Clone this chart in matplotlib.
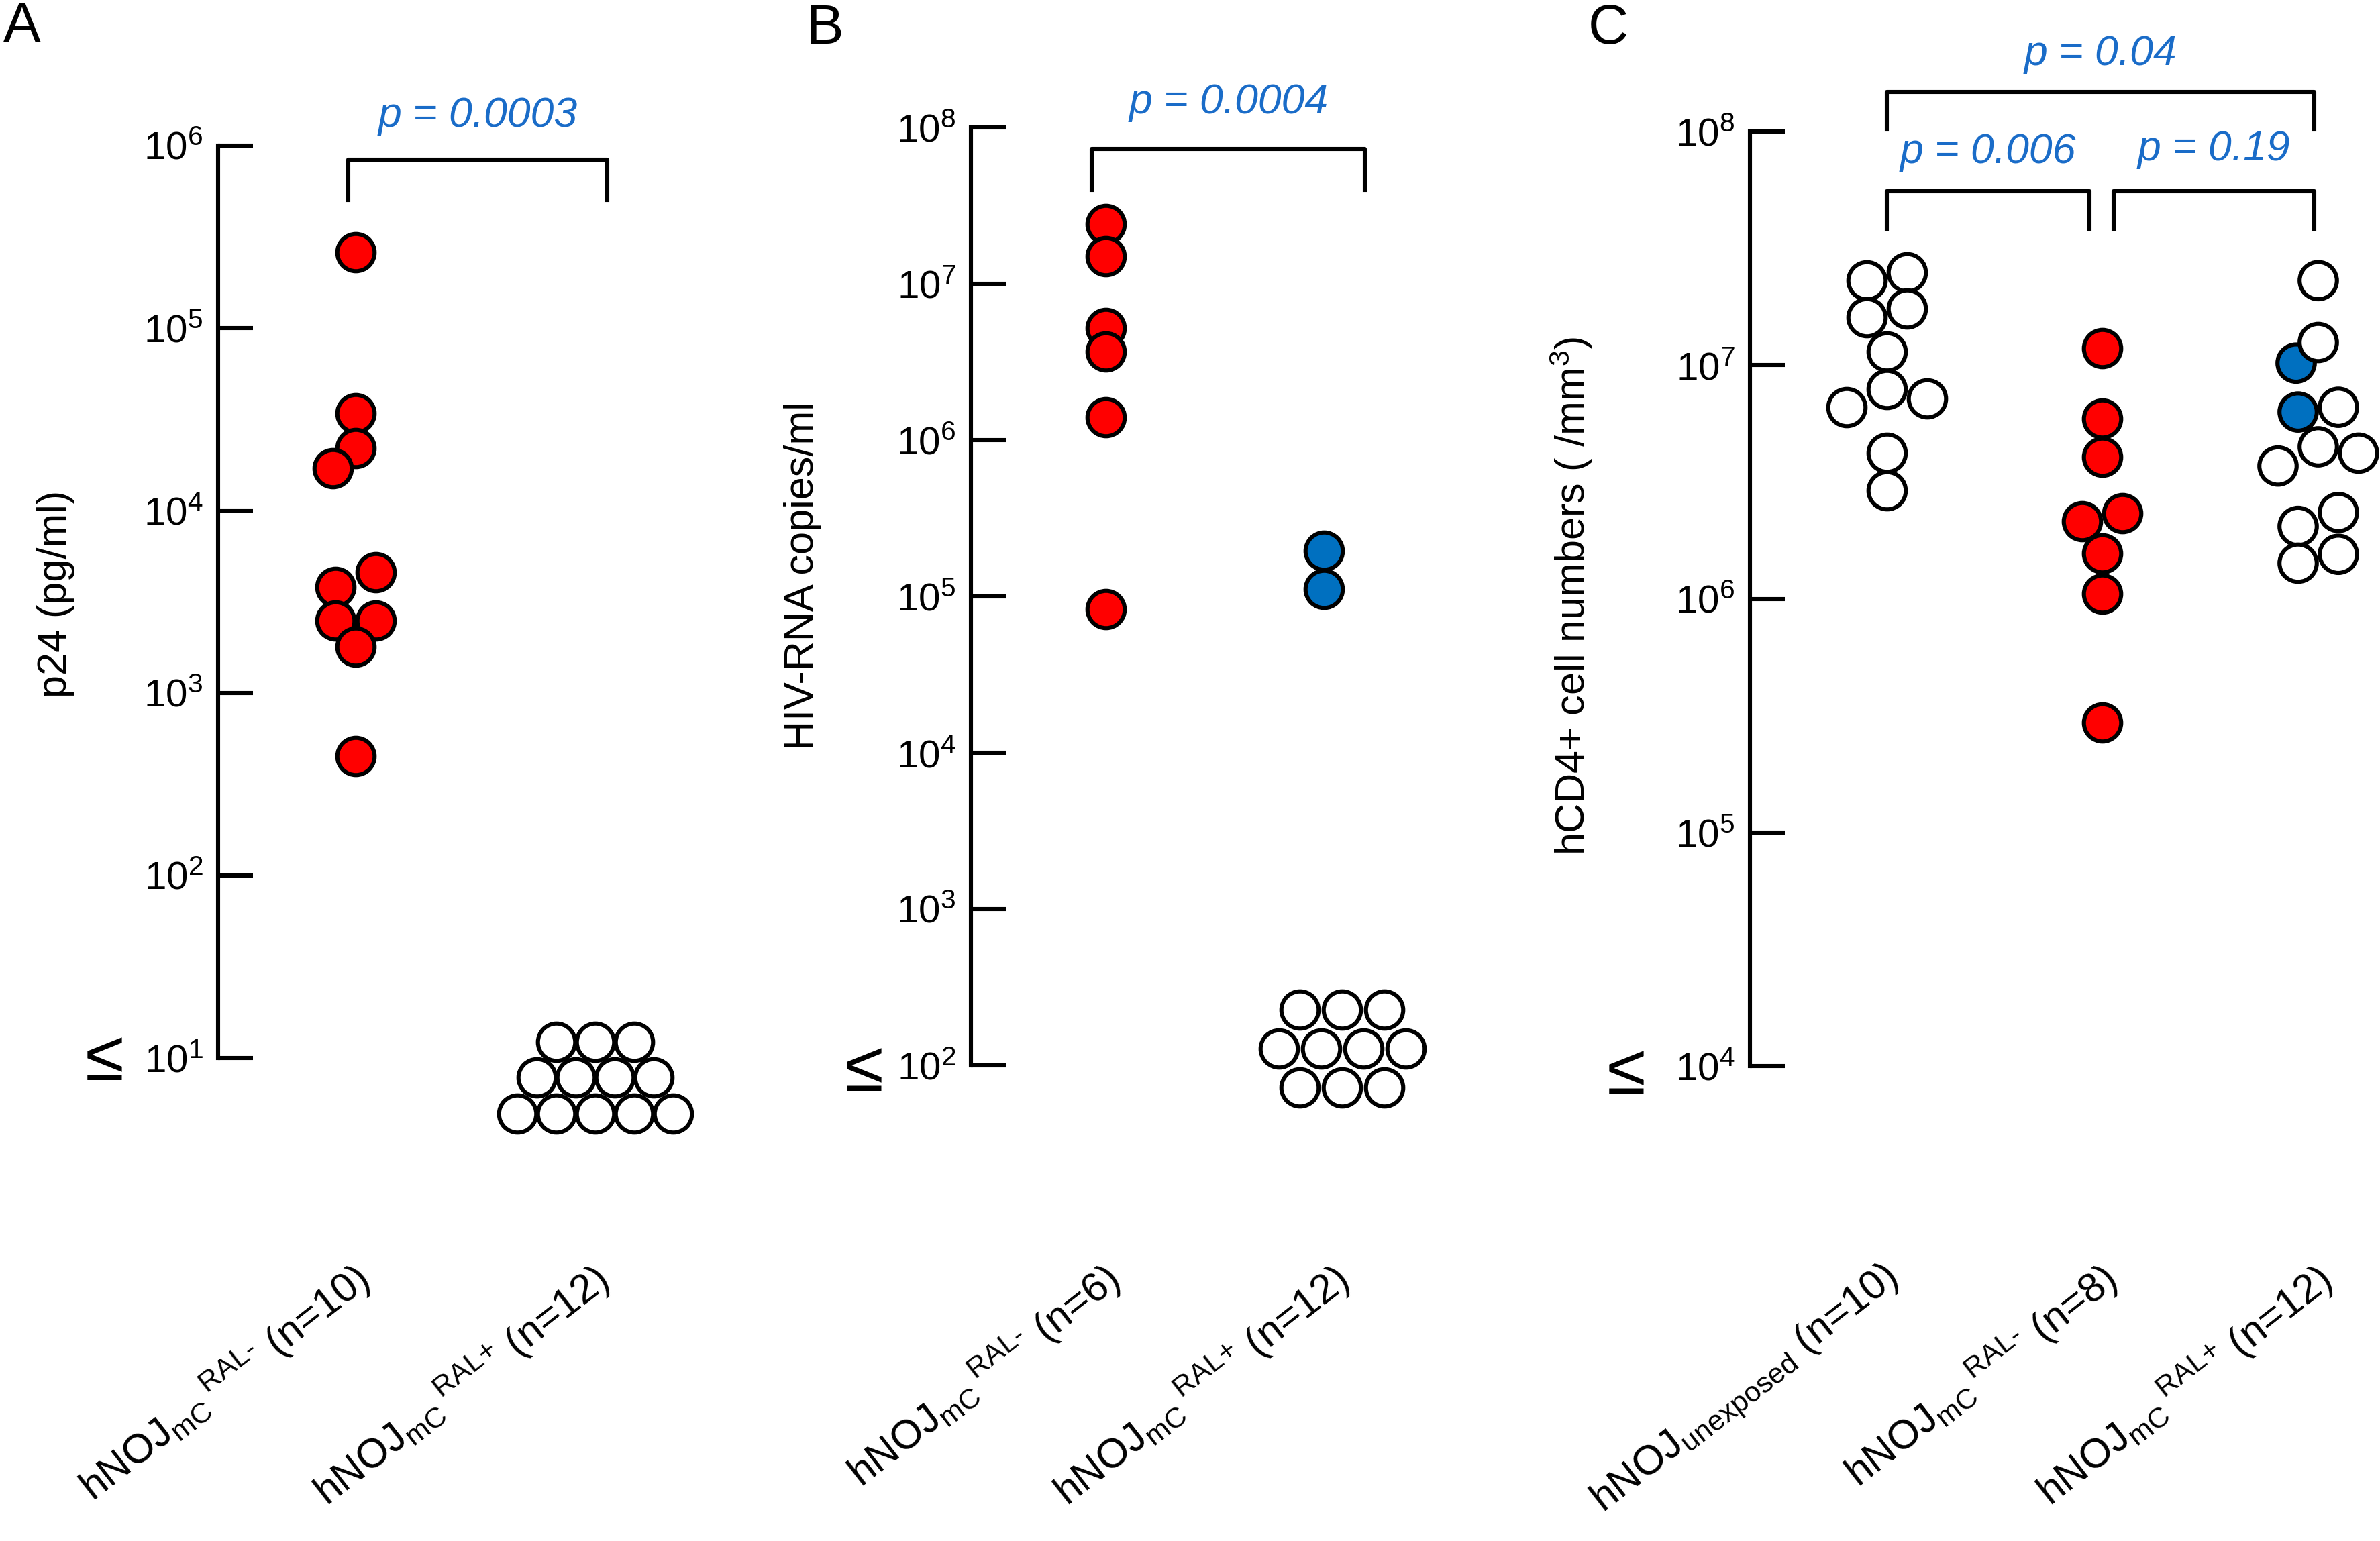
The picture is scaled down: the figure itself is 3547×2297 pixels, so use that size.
import numpy as np
import matplotlib
matplotlib.use("Agg")
import matplotlib.pyplot as plt
from matplotlib.ticker import NullLocator
from matplotlib.transforms import blended_transform_factory

plt.rcParams['font.family'] = ['Liberation Sans', 'DejaVu Sans']
plt.rcParams['mathtext.fontset'] = 'custom'
plt.rcParams['mathtext.rm'] = 'Liberation Sans'
plt.rcParams['mathtext.it'] = 'Liberation Sans:italic'
plt.rcParams['mathtext.bf'] = 'Liberation Sans:bold'

# ---- data ----
# A: p24 in plasma (pg/ml), detection limit 10^1
p24_ral_minus = [2.6e5, 3.4e4, 2.2e4, 1.7e4, 4.6e3, 3.8e3, 2.5e3, 2.5e3, 1.8e3, 4.5e2]
p24_ral_plus_below = 12
p24_limit = 1e1
p24_top = 1e6

# B: HIV-RNA copies/ml, detection limit 10^2
rna_ral_minus = [2.4e7, 1.5e7, 5.2e6, 3.7e6, 1.4e6, 8.3e4]
rna_ral_plus_detected = [1.95e5, 1.12e5]
rna_ral_plus_below = 10
rna_limit = 1e2
rna_top = 1e8

# C: hCD4+ cell numbers (/mm3)
cd4_unexposed = [2.5e7, 2.3e7, 1.75e7, 1.6e7, 1.14e7, 7.9e6, 7.2e6, 6.6e6, 4.2e6, 2.9e6]
cd4_ral_minus = [1.18e7, 5.9e6, 4.05e6, 2.33e6, 2.14e6, 1.56e6, 1.05e6, 2.95e5]
cd4_ral_plus_viremic = [1.02e7, 6.3e6]
cd4_ral_plus_other = [2.3e7, 1.25e7, 6.6e6, 4.47e6, 4.2e6, 3.7e6, 2.34e6, 2.04e6, 1.55e6, 1.42e6]
cd4_limit = 1e4
cd4_top = 1e8

mc_minus = r'hNOJ$_{\text{mC}}\,{}^{\text{RAL-}}$'
mc_plus = r'hNOJ$_{\text{mC}}\,{}^{\text{RAL+}}$'
labels_A = [mc_minus + ' (n=10)', mc_plus + ' (n=12)']
labels_B = [mc_minus + ' (n=6)', mc_plus + ' (n=12)']
labels_C = [r'hNOJ$_{\text{unexposed}}$ (n=10)', mc_minus + ' (n=8)', mc_plus + ' (n=12)']
ylabel_A = 'p24 (pg/ml)'
ylabel_B = 'HIV-RNA copies/ml'
ylabel_C = r'hCD4+ cell numbers ( /mm$^{\mathregular{3}}$)'
pvals_A = ['p = 0.0003']
pvals_B = ['p = 0.0004']
pvals_C = ['p = 0.04', 'p = 0.006', 'p = 0.19']

# ---- styling ----
RED = '#FF0000'
BLUE = '#0070C0'
PBLUE = '#1A6CC8'
LW = 2.2
MS = 400
W, H, DPI = 3548, 2297, 200
PT = 72.0 / DPI  # points per pixel

fig = plt.figure(figsize=(W / DPI, H / DPI), dpi=DPI)


def make_axes(spine, top, lod, g1, spacing, ngroups, ylo, yhi, labels, ylabel, ylab_xy):
    xmin = 1 - (g1 - spine) / spacing
    xmax = ngroups + 0.25
    width = (xmax - xmin) * spacing
    ax = fig.add_axes([spine / W, 1 - lod / H, width / W, (lod - top) / H])
    ax.set_xlim(xmin, xmax)
    ax.set_yscale('log')
    ax.set_ylim(ylo, yhi)
    for s in ['top', 'right', 'bottom']:
        ax.spines[s].set_visible(False)
    ax.spines['left'].set_linewidth(LW)
    ax.spines['left'].set_capstyle('projecting')
    exps = range(int(round(np.log10(ylo))), int(round(np.log10(yhi))) + 1)
    ax.set_yticks([10.0 ** k for k in exps])
    ax.set_yticklabels([r'$\mathregular{10^{%d}}$' % k for k in exps])
    ax.yaxis.set_minor_locator(NullLocator())
    ax.tick_params(axis='y', direction='in', length=52 * PT, width=LW, pad=8, labelsize=21)
    # group labels, anchored at their right end just below the plot
    ax.set_xticks(np.arange(1, ngroups + 1) + 12 / spacing)
    ax.set_xticklabels(labels, rotation=38, ha='right', va='center',
                       rotation_mode='anchor', fontsize=22)
    ax.tick_params(axis='x', length=0, pad=(1900 - lod) * PT)
    ax.set_ylabel(ylabel, fontsize=22, va='center')
    ax.yaxis.set_label_coords((ylab_xy[0] - spine) / width, (lod - ylab_xy[1]) / (lod - top))
    ax.patch.set_alpha(0)
    ax.geo = (top, lod, spacing)
    return ax


def swarm(ax, x0, values, d=60, row_tol=30, min_dist=45):
    vals = np.asarray(values, float)
    disp = ax.transData.transform(np.column_stack([np.full(len(vals), x0), vals]))
    xc = disp[0, 0]
    ys = disp[:, 1]
    order = np.argsort(-ys, kind='stable')
    rows = []
    for i in order:
        if rows and ys[rows[-1][0]] - ys[i] < row_tol:
            rows[-1].append(i)
        else:
            rows.append([i])
    xs = np.zeros(len(vals))
    placed = []
    shifts = sorted(np.arange(-d, d + 1), key=abs)
    for row in rows:
        k = len(row)
        slots = sorted((np.arange(k) - (k - 1) / 2) * d, key=lambda s: (abs(s), -s))
        for sh in shifts:
            ok = all(np.hypot(sl + sh - px, ys[i] - py) >= min_dist
                     for sl, i in zip(slots, row) for px, py in placed)
            if ok:
                break
        for sl, i in zip(slots, row):
            xs[i] = sl + sh
            placed.append((sl + sh, ys[i]))
    pts = ax.transData.inverted().transform(np.column_stack([xc + xs, ys]))
    return pts[:, 0]


def pile(ax, x0, limit, rows, col_sp, row_sp, mid_off):
    # stack of values at / below the detection limit
    cx, cy = ax.transData.transform([(x0, limit)])[0]
    pts = []
    nr = len(rows)
    for r, k in enumerate(rows):
        yy = cy - mid_off - (r - (nr - 1) / 2) * row_sp
        for j in range(k):
            pts.append((cx + (j - (k - 1) / 2) * col_sp, yy))
    return ax.transData.inverted().transform(pts)


def dots(ax, x, y, color):
    ax.scatter(x, y, s=MS, c=color, edgecolors='black', linewidths=LW,
               zorder=3, clip_on=False)


def bracket(ax, x1, x2, ytop, yleg, text, ytext):
    top, lod, _ = ax.geo
    fy = lambda p: (lod - p) / (lod - top)
    tr = blended_transform_factory(ax.transData, ax.transAxes)
    ax.plot([x1, x1, x2, x2], [fy(yleg), fy(ytop), fy(ytop), fy(yleg)], color='black',
            lw=LW, transform=tr, clip_on=False, solid_joinstyle='round')
    ax.text((x1 + x2) / 2, fy(ytext), text, transform=tr, ha='center', va='center',
            color=PBLUE, fontsize=22.5, style='italic')


def le_sign(xpx, ypx):
    fig.text(xpx / W, 1 - ypx / H, '\u2264', ha='center', va='center', fontsize=38)


# ---- panel A ----
axA = make_axes(325, 217, 1577, 530, 357, 2, p24_limit, p24_top, labels_A, ylabel_A, (84, 885))
dots(axA, swarm(axA, 1, p24_ral_minus), p24_ral_minus, RED)
pA = pile(axA, 2, p24_limit, [3, 4, 5], 58, 53.5, 29)
dots(axA, pA[:, 0], pA[:, 1], 'white')
bracket(axA, 0.97, 2.05, 238, 298, pvals_A[0], 172)
le_sign(156, 1582)

# ---- panel B ----
axB = make_axes(1447, 190, 1588, 1648, 342, 2, rna_limit, rna_top, labels_B, ylabel_B, (1197, 858))
dots(axB, np.full(len(rna_ral_minus), 1.0), rna_ral_minus, RED)
dots(axB, np.full(len(rna_ral_plus_detected), 1.95), rna_ral_plus_detected, BLUE)
pB = pile(axB, 2.03, rna_limit, [3, 4, 3], 63, 58, -25)
dots(axB, pB[:, 0], pB[:, 1], 'white')
bracket(axB, 0.94, 2.13, 222, 283, pvals_B[0], 153)
le_sign(1288, 1598)

# ---- panel C ----
axC = make_axes(2608, 196, 1589, 2812, 321.5, 3, cd4_limit, cd4_top, labels_C, ylabel_C, (2342, 888))
dots(axC, swarm(axC, 1, cd4_unexposed), cd4_unexposed, 'white')
dots(axC, swarm(axC, 2, cd4_ral_minus), cd4_ral_minus, RED)
g3 = cd4_ral_plus_viremic + cd4_ral_plus_other
g3_col = [BLUE] * len(cd4_ral_plus_viremic) + ['white'] * len(cd4_ral_plus_other)
dots(axC, swarm(axC, 3, g3), g3, g3_col)
bracket(axC, 1.0, 2.98, 137, 193, pvals_C[0], 80)
bracket(axC, 1.0, 1.94, 285, 341, pvals_C[1], 226)
bracket(axC, 2.05, 2.98, 285, 341, pvals_C[2], 223)
le_sign(2424, 1602)

for letter, x, y in [('A', 33, 40), ('B', 1229, 43), ('C', 2397, 43)]:
    fig.text(x / W, 1 - y / H, letter, ha='center', va='center', fontsize=30)

plt.savefig('out.png', dpi=DPI)
